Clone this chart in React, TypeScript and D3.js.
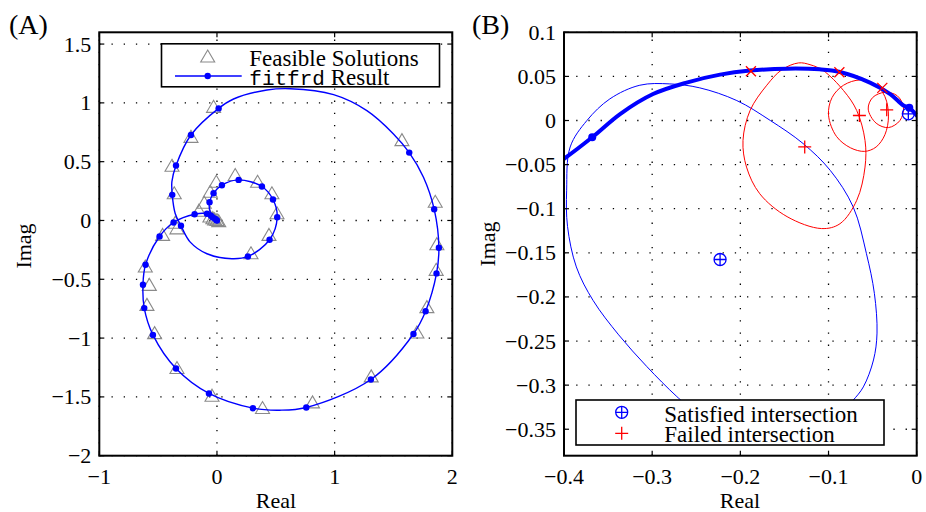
import React from "react";
import * as d3 from "d3";

// ---------- Panel A data ----------
const A_X_TICKS = [-1, 0, 1, 2];
const A_Y_TICKS = [1.5, 1, 0.5, 0, -0.5, -1, -1.5, -2];
const A_X_LABELS = ["\u22121", "0", "1", "2"];
const A_Y_LABELS = ["1.5", "1", "0.5", "0", "\u22120.5", "\u22121", "\u22121.5", "\u22122"];

// fitfrd result curve (ordered)
const A_CURVE_RE = [0, -0.03, -0.06, -0.063, -0.029, 0.042, 0.184, 0.382, 0.476, 0.512, 0.447, 0.263, 0.127, -0.085, -0.227, -0.306, -0.355, -0.38, -0.383, -0.348, -0.221, 0.014, 0.141, 0.425, 0.623, 0.991, 1.274, 1.5, 1.634, 1.755, 1.846, 1.886, 1.866, 1.773, 1.67, 1.308, 0.759, 0.532, 0.306, -0.068, -0.348, -0.544, -0.618, -0.629, -0.607, -0.488, -0.369, -0.19, -0.085, -0.035, 0];
const A_CURVE_IM = [0, 0.03, 0.08, 0.155, 0.232, 0.3, 0.345, 0.289, 0.178, 0.028, -0.164, -0.306, -0.325, -0.283, -0.184, -0.045, 0.06, 0.218, 0.33, 0.467, 0.727, 0.953, 1.033, 1.109, 1.12, 1.07, 0.934, 0.736, 0.577, 0.368, 0.096, -0.232, -0.45, -0.772, -0.965, -1.352, -1.59, -1.613, -1.596, -1.471, -1.259, -0.973, -0.745, -0.546, -0.376, -0.136, -0.017, 0.053, 0.057, 0.025, 0];

// fitfrd markers
const A_DOT_RE = [-0.063, -0.029, 0.042, 0.184, 0.382, 0.476, 0.512, 0.447, 0.263, -0.306, -0.38, -0.348, -0.221, 0.014, 1.634, 1.846, 1.886, 1.866, 1.773, 1.67, 1.308, 0.759, 0.306, -0.068, -0.348, -0.544, -0.618, -0.629, -0.607, -0.488, -0.369, -0.19, -0.085, -0.051, -0.035, -0.014, -0.005, 0];
const A_DOT_IM = [0.155, 0.232, 0.3, 0.345, 0.289, 0.178, 0.028, -0.164, -0.306, -0.045, 0.218, 0.467, 0.727, 0.953, 0.577, 0.096, -0.232, -0.45, -0.772, -0.965, -1.352, -1.59, -1.596, -1.471, -1.259, -0.973, -0.745, -0.546, -0.376, -0.136, -0.017, 0.053, 0.057, 0.04, 0.025, 0.014, 0.005, 0];

// feasible solutions
const A_TRI_RE = [-0.029, -0.221, -0.382, -0.363, -0.354, -0.34, -0.462, -0.609, -0.575, -0.595, -0.53, -0.34, -0.042, 0.387, 0.812, 1.311, 1.699, 1.784, 1.863, 1.869, 1.855, 1.572, -0.006, 0.155, 0.345, 0.467, 0.51, 0.442, 0.289, -0.057, -0.108, -0.153, -0.06, -0.035, -0.02, 0, 0.015];
const A_TRI_IM = [0.962, 0.707, 0.461, 0.227, -0.023, -0.071, -0.127, -0.396, -0.552, -0.722, -0.962, -1.259, -1.494, -1.599, -1.551, -1.33, -0.957, -0.741, -0.424, -0.206, 0.155, 0.679, 0.325, 0.382, 0.325, 0.227, 0.057, -0.127, -0.283, 0.24, 0.147, 0.079, 0.03, 0.015, 0.005, 0, -0.01];

// ---------- Panel B data ----------
const B_X_TICKS = [-0.4, -0.3, -0.2, -0.1, 0];
const B_Y_TICKS = [0.1, 0.05, 0, -0.05, -0.1, -0.15, -0.2, -0.25, -0.3, -0.35];
const B_X_LABELS = ["\u22120.4", "\u22120.3", "\u22120.2", "\u22120.1", "0"];
const B_Y_LABELS = ["0.1", "0.05", "0", "\u22120.05", "\u22120.1", "\u22120.15", "\u22120.2", "\u22120.25", "\u22120.3", "\u22120.35"];

const B_THICK_RE = [-0.41, -0.4, -0.368, -0.336, -0.299, -0.261, -0.223, -0.189, -0.147, -0.11, -0.087, -0.053, -0.03, -0.015, -0.0084, 0];
const B_THICK_IM = [-0.05, -0.0434, -0.019, 0.0076, 0.03, 0.043, 0.052, 0.0566, 0.0588, 0.058, 0.055, 0.043, 0.03, 0.017, 0.0144, 0.0057];
const B_THICK_DOT_RE = [-0.368, -0.0084];
const B_THICK_DOT_IM = [-0.019, 0.0144];

const B_THIN_RE = [-0.24, -0.272, -0.306, -0.338, -0.367, -0.386, -0.396, -0.397, -0.393, -0.374, -0.348, -0.314, -0.28, -0.246, -0.204, -0.166, -0.129, -0.098, -0.072, -0.057, -0.048, -0.045, -0.049, -0.0605, -0.072, -0.08];
const B_THIN_IM = [-0.34, -0.313, -0.279, -0.243, -0.204, -0.166, -0.12, -0.079, -0.03, 0, 0.0245, 0.04, 0.0415, 0.037, 0.0226, 0, -0.026, -0.0566, -0.098, -0.151, -0.196, -0.241, -0.2715, -0.302, -0.317, -0.325];

const B_RED1_RE = [-0.134, -0.153, -0.17, -0.189, -0.197, -0.193, -0.178, -0.147, -0.108, -0.087, -0.068, -0.0586, -0.0586, -0.068, -0.083, -0.106, -0.121];
const B_RED1_IM = [0.0653, 0.0575, 0.04, 0.0113, -0.0226, -0.0528, -0.083, -0.109, -0.1225, -0.117, -0.0905, -0.0528, -0.0226, 0.0113, 0.034, 0.0566, 0.0633];
const B_RED2_RE = [-0.1, -0.096, -0.083, -0.064, -0.047, -0.036, -0.032, -0.036, -0.046, -0.059, -0.075, -0.091];
const B_RED2_IM = [0.006, 0.026, 0.04, 0.046, 0.041, 0.027, 0.005, -0.016, -0.03, -0.035, -0.031, -0.018];
const B_RED3_RE = [-0.055, -0.05, -0.036, -0.022, -0.015, -0.019, -0.032, -0.046];
const B_RED3_IM = [0.013, 0.026, 0.032, 0.028, 0.015, 0.0, -0.008, -0.003];

const B_CROSS_RE = [-0.188, -0.0877, -0.039];
const B_CROSS_IM = [0.0558, 0.0547, 0.037];
const B_FAIL_RE = [-0.127, -0.065, -0.034];
const B_FAIL_IM = [-0.03, 0.0057, 0.0121];
const B_SAT_RE = [-0.223, -0.0095];
const B_SAT_IM = [-0.1576, 0.0076];

const SERIF = "'Liberation Serif', 'Times New Roman', serif";
const MONO = "'Liberation Mono', 'Courier New', monospace";
const BLUE = "#0000ff";
const RED = "#ff0000";
const GRAY = "#8a8a8a";

type AxesProps = {
  x: d3.ScaleLinear<number, number>;
  y: d3.ScaleLinear<number, number>;
  xTicks: number[];
  yTicks: number[];
  xLabels: string[];
  yLabels: string[];
  id: string;
};

function Grid({ x, y, xTicks, yTicks }: AxesProps) {
  const [x0, x1] = x.range();
  const [y0, y1] = y.range();
  return (
    <g stroke="#000" strokeWidth={1.3} strokeDasharray="1.3 10.9" fill="none">
      {xTicks.map((t, i) => (
        <line key={"gx" + i} x1={x(t)} x2={x(t)} y1={y0} y2={y1} />
      ))}
      {yTicks.map((t, i) => (
        <line key={"gy" + i} x1={x0} x2={x1} y1={y(t)} y2={y(t)} />
      ))}
    </g>
  );
}

function Frame({ x, y, xTicks, yTicks, xLabels, yLabels }: AxesProps) {
  const [x0, x1] = x.range();
  const [y0, y1] = y.range();
  const tl = 5;
  return (
    <g>
      <g stroke="#000" strokeWidth={1.2}>
        {xTicks.map((t, i) => (
          <g key={"tx" + i}>
            <line x1={x(t)} x2={x(t)} y1={y0} y2={y0 - tl} />
            <line x1={x(t)} x2={x(t)} y1={y1} y2={y1 + tl} />
          </g>
        ))}
        {yTicks.map((t, i) => (
          <g key={"ty" + i}>
            <line x1={x0} x2={x0 + tl} y1={y(t)} y2={y(t)} />
            <line x1={x1} x2={x1 - tl} y1={y(t)} y2={y(t)} />
          </g>
        ))}
      </g>
      <rect x={x0} y={y1} width={x1 - x0} height={y0 - y1} fill="none" stroke="#000" strokeWidth={2} />
      <g fontFamily={SERIF} fontSize={22} fill="#000">
        {xTicks.map((t, i) => (
          <text key={"lx" + i} x={x(t)} y={484} textAnchor="middle">
            {xLabels[i]}
          </text>
        ))}
        {yTicks.map((t, i) => (
          <text key={"ly" + i} x={x0 - 8} y={y(t) + 7.5} textAnchor="end">
            {yLabels[i]}
          </text>
        ))}
      </g>
    </g>
  );
}

function zip(a: number[], b: number[]): [number, number][] {
  return a.map((v, i) => [v, b[i]]);
}

export default function App() {
  // Panel A scales
  const ax = d3.scaleLinear().domain([-1, 2]).range([99.3, 452.3]);
  const ay = d3.scaleLinear().domain([-2, 1.6]).range([455.7, 32.3]);
  // Panel B scales
  const bx = d3.scaleLinear().domain([-0.4, 0]).range([564, 916.7]);
  const by = d3.scaleLinear().domain([-0.38, 0.1]).range([455.7, 32.3]);

  const aLine = d3
    .line<[number, number]>()
    .x((d) => ax(d[0]))
    .y((d) => ay(d[1]))
    .curve(d3.curveCatmullRom.alpha(0.5));
  const bLine = d3
    .line<[number, number]>()
    .x((d) => bx(d[0]))
    .y((d) => by(d[1]))
    .curve(d3.curveCatmullRom.alpha(0.5));
  const bLoop = d3
    .line<[number, number]>()
    .x((d) => bx(d[0]))
    .y((d) => by(d[1]))
    .curve(d3.curveCatmullRomClosed.alpha(0.5));

  const aProps: AxesProps = { x: ax, y: ay, xTicks: A_X_TICKS, yTicks: A_Y_TICKS, xLabels: A_X_LABELS, yLabels: A_Y_LABELS, id: "a" };
  const bProps: AxesProps = { x: bx, y: by, xTicks: B_X_TICKS, yTicks: B_Y_TICKS, xLabels: B_X_LABELS, yLabels: B_Y_LABELS, id: "b" };

  const tri = "M0,-7L7,5L-7,5Z";
  const plus = "M-6.5,0H6.5M0,-6.5V6.5";
  const cross = "M-5,-5L5,5M-5,5L5,-5";

  const satMarker = (cx: number, cy: number, k: string) => (
    <g key={k} transform={`translate(${cx},${cy})`} stroke={BLUE} strokeWidth={1.3} fill="none">
      <circle r={6} />
      <path d="M-6,0H6M0,-6V6" />
    </g>
  );

  return (
    <svg width={926} height={512} style={{ position: "absolute", left: 0, top: 0, background: "#fff" }}>
      <defs>
        <clipPath id="clipA">
          <rect x={99.3} y={32.3} width={353} height={423.4} />
        </clipPath>
        <clipPath id="clipB">
          <rect x={564} y={32.3} width={352.7} height={423.4} />
        </clipPath>
      </defs>
      <rect x={0} y={0} width={926} height={512} fill="#fff" />

      {/* ---------------- Panel A ---------------- */}
      <Grid {...aProps} />
      <g clipPath="url(#clipA)">
        <g stroke={GRAY} strokeWidth={1.1} fill="none">
          {zip(A_TRI_RE, A_TRI_IM).map((d, i) => (
            <path key={"t" + i} d={tri} transform={`translate(${ax(d[0])},${ay(d[1])})`} />
          ))}
        </g>
        <path d={aLine(zip(A_CURVE_RE, A_CURVE_IM)) || ""} stroke={BLUE} strokeWidth={1.4} fill="none" />
        <g fill={BLUE}>
          {zip(A_DOT_RE, A_DOT_IM).map((d, i) => (
            <circle key={"d" + i} cx={ax(d[0])} cy={ay(d[1])} r={3.2} />
          ))}
        </g>
      </g>
      {/* legend A */}
      <g>
        <rect x={161.5} y={43.8} width={278} height={43} fill="#fff" stroke="#000" strokeWidth={1.6} />
        <path d={tri} transform="translate(207.7,57)" stroke={GRAY} strokeWidth={1.1} fill="none" />
        <line x1={175} x2={241.7} y1={76} y2={76} stroke={BLUE} strokeWidth={1.4} />
        <circle cx={207.7} cy={76} r={3.2} fill={BLUE} />
        <text x={249.3} y={66} fontFamily={SERIF} fontSize={23}>
          Feasible Solutions
        </text>
        <text x={249.3} y={85} fontFamily={SERIF} fontSize={23}>
          <tspan fontFamily={MONO} fontSize={21}>fitfrd</tspan>
          <tspan> Result</tspan>
        </text>
      </g>
      <Frame {...aProps} />
      <text x={9} y={34} fontFamily={SERIF} fontSize={28}>
        (A)
      </text>
      <text x={276} y={508} fontFamily={SERIF} fontSize={22} textAnchor="middle">
        Real
      </text>
      <text transform="translate(31,246) rotate(-90)" fontFamily={SERIF} fontSize={22} textAnchor="middle">
        Imag
      </text>

      {/* ---------------- Panel B ---------------- */}
      <Grid {...bProps} />
      <g clipPath="url(#clipB)">
        <path d={bLine(zip(B_THIN_RE, B_THIN_IM)) || ""} stroke={BLUE} strokeWidth={1} fill="none" />
        <path d={bLoop(zip(B_RED1_RE, B_RED1_IM)) || ""} stroke={RED} strokeWidth={1} fill="none" />
        <path d={bLoop(zip(B_RED2_RE, B_RED2_IM)) || ""} stroke={RED} strokeWidth={1} fill="none" />
        <path d={bLoop(zip(B_RED3_RE, B_RED3_IM)) || ""} stroke={RED} strokeWidth={1} fill="none" />
        <path d={bLine(zip(B_THICK_RE, B_THICK_IM)) || ""} stroke={BLUE} strokeWidth={4} fill="none" strokeLinecap="round" />
        <g fill={BLUE}>
          {zip(B_THICK_DOT_RE, B_THICK_DOT_IM).map((d, i) => (
            <circle key={"bd" + i} cx={bx(d[0])} cy={by(d[1])} r={4} />
          ))}
        </g>
        <g stroke={RED} strokeWidth={1.3} fill="none">
          {zip(B_CROSS_RE, B_CROSS_IM).map((d, i) => (
            <path key={"bx" + i} d={cross} transform={`translate(${bx(d[0])},${by(d[1])})`} />
          ))}
          {zip(B_FAIL_RE, B_FAIL_IM).map((d, i) => (
            <path key={"bf" + i} d={plus} transform={`translate(${bx(d[0])},${by(d[1])})`} />
          ))}
        </g>
        {zip(B_SAT_RE, B_SAT_IM).map((d, i) => satMarker(bx(d[0]), by(d[1]), "bs" + i))}
      </g>
      {/* legend B */}
      <g>
        <rect x={576} y={400} width={308} height={45} fill="#fff" stroke="#000" strokeWidth={1.6} />
        {satMarker(621.7, 412.3, "legsat")}
        <path d={plus} transform="translate(621.7,433.3)" stroke={RED} strokeWidth={1.3} fill="none" />
        <text x={664.3} y={422} fontFamily={SERIF} fontSize={23}>
          Satisfied intersection
        </text>
        <text x={664.3} y={441.5} fontFamily={SERIF} fontSize={23}>
          Failed intersection
        </text>
      </g>
      <Frame {...bProps} />
      <text x={472} y={34} fontFamily={SERIF} fontSize={28}>
        (B)
      </text>
      <text x={740} y={508} fontFamily={SERIF} fontSize={22} textAnchor="middle">
        Real
      </text>
      <text transform="translate(495,244) rotate(-90)" fontFamily={SERIF} fontSize={22} textAnchor="middle">
        Imag
      </text>
    </svg>
  );
}
